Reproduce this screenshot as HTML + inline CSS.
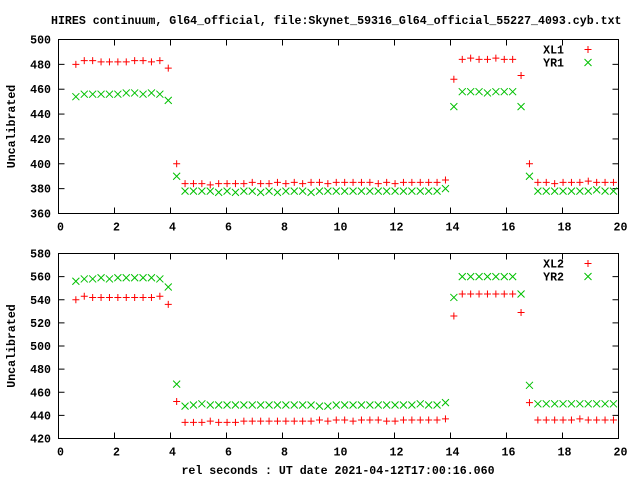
<!DOCTYPE html>
<html><head><meta charset="utf-8"><style>
html,body{margin:0;padding:0;background:#fff;}
svg{display:block;}
text{font-family:"Liberation Mono",monospace;font-weight:bold;font-size:11.6px;fill:#000;}
</style></head><body>
<svg id="chart" width="640" height="480" viewBox="0 0 640 480" xmlns="http://www.w3.org/2000/svg">
<text x="51" y="24">HIRES continuum, Gl64_official, file:Skynet_59316_Gl64_official_55227_4093.cyb.txt</text>
<text x="338" y="474" text-anchor="middle">rel seconds : UT date 2021-04-12T17:00:16.060</text>
</svg>
<script>
const times=[0.62,0.92,1.22,1.52,1.82,2.12,2.42,2.72,3.02,3.32,3.62,3.92,4.22,4.52,4.82,5.12,5.42,5.72,6.02,6.32,6.62,6.92,7.22,7.52,7.82,8.12,8.42,8.72,9.02,9.32,9.62,9.92,10.22,10.52,10.82,11.12,11.42,11.72,12.02,12.32,12.62,12.92,13.22,13.52,13.82,14.12,14.42,14.72,15.02,15.32,15.62,15.92,16.22,16.52,16.82,17.12,17.42,17.72,18.02,18.32,18.62,18.92,19.22,19.52,19.82];
const xl1=[480,483,483,482,482,482,482,483,483,482,483,477,400,384,384,384,383,384,384,384,384,385,384,384,385,384,385,384,385,385,384,385,385,385,385,385,384,385,384,385,385,385,385,385,387,468,484,485,484,484,485,484,484,471,400,385,385,384,385,385,385,386,385,385,385];
const yr1=[454,456,456,456,456,456,457,457,456,457,456,451,390,378,378,378,378,377,378,377,378,378,377,378,377,378,378,378,377,378,378,378,378,378,378,378,378,378,378,378,378,378,378,378,380,446,458,458,458,457,458,458,458,446,390,378,378,378,378,378,378,378,379,378,378];
const xl2=[540,543,542,542,542,542,542,542,542,542,543,536,452,434,434,434,435,434,434,434,435,435,435,435,435,435,435,435,435,436,435,436,436,435,436,436,436,435,435,436,436,436,436,436,437,526,545,545,545,545,545,545,545,529,451,436,436,436,436,436,437,436,436,436,436];
const yr2=[556,558,558,559,558,559,559,559,559,559,558,551,467,448,449,450,449,449,449,449,449,449,449,449,449,449,449,449,449,448,448,449,449,449,449,449,449,449,449,449,449,450,449,449,451,542,560,560,560,560,560,560,560,545,466,450,450,450,450,450,450,450,450,450,450];
const xTicks=[0,2,4,6,8,10,12,14,16,18,20];
const yTicksTop=[360,380,400,420,440,460,480,500];
const yTicksBot=[420,440,460,480,500,520,540,560,580];
const NS="http://www.w3.org/2000/svg";
const svg=document.getElementById('chart');
function mk(tag,attrs,parent){const e=document.createElementNS(NS,tag);for(const k in attrs)e.setAttribute(k,attrs[k]);(parent||svg).appendChild(e);return e;}
function panel(name,top,bottom,ymin,ymax,yTicks,s1,s2,l1,l2){
  const L=58.5,R=618.5;
  const g=mk('g',{});
  
  
  const xs=v=>L+(v-0)/(20-0)*(R-L);
  const ys=v=>bottom-(v-ymin)/(ymax-ymin)*(bottom-top);
  const fr=mk('rect',{x:L,y:top,width:R-L,height:bottom-top,fill:'none',stroke:'#000','stroke-width':1},g);
  
  
  xTicks.forEach(v=>{const x=xs(v);
    mk('line',{x1:x,y1:bottom,x2:x,y2:bottom-6,stroke:'#000'},g);
    mk('line',{x1:x,y1:top,x2:x,y2:top+6,stroke:'#000'},g);
    const t=mk('text',{x:x+2,y:bottom+17,'text-anchor':'middle'},g);t.textContent=v;
    
    
  });
  yTicks.forEach(v=>{const y=ys(v);
    mk('line',{x1:L,y1:y,x2:L+6,y2:y,stroke:'#000'},g);
    mk('line',{x1:R,y1:y,x2:R-6,y2:y,stroke:'#000'},g);
    const t=mk('text',{x:51,y:y+4,'text-anchor':'end'},g);t.textContent=v;
    
    
  });
  const yt=mk('text',{x:0,y:0,'text-anchor':'middle',transform:`translate(15,${(top+bottom)/2}) rotate(-90)`},g);
  yt.textContent='Uncalibrated';
  
  
  function plus(x,y,par){mk('path',{d:`M${x-3.5},${y}H${x+3.5}M${x},${y-3.5}V${y+3.5}`,stroke:'#ff0000','stroke-width':1,fill:'none'},par);}
  function cross(x,y,par){mk('path',{d:`M${x-3.5},${y-3.5}L${x+3.5},${y+3.5}M${x-3.5},${y+3.5}L${x+3.5},${y-3.5}`,stroke:'#00c000','stroke-width':1,fill:'none'},par);}
  const ga=mk('g',{},g);
  
  
  const gb=mk('g',{},g);
  
  
  times.forEach((t,i)=>{plus(xs(t),ys(s1[i]),ga);cross(xs(t),ys(s2[i]),gb);});
  const lg=mk('g',{},g);
  
  
  const a=mk('text',{x:564,y:top+14,'text-anchor':'end'},lg);a.textContent=l1;
  
  
  plus(588,top+10,lg);
  const b=mk('text',{x:564,y:top+27,'text-anchor':'end'},lg);b.textContent=l2;
  
  
  cross(588,top+23,lg);
}
panel('top-panel',39.5,213.5,360,500,yTicksTop,xl1,yr1,'XL1','YR1');
panel('bottom-panel',253.5,438.5,420,580,yTicksBot,xl2,yr2,'XL2','YR2');
</script>
</body></html>
